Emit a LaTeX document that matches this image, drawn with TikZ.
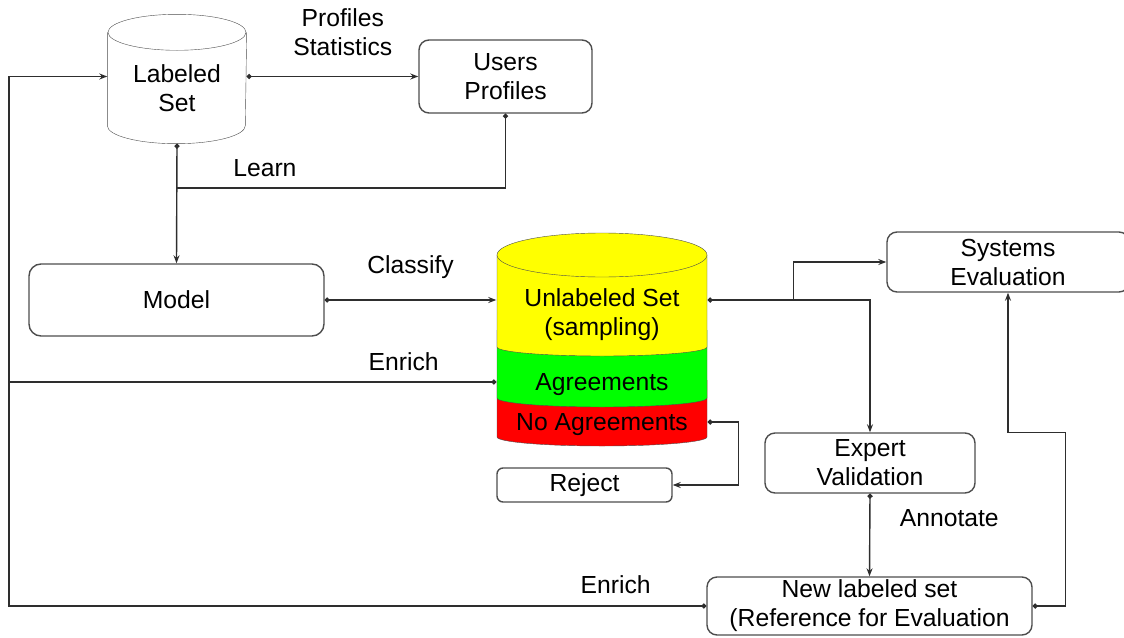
\documentclass[tikz,border=0pt]{standalone}
\usepackage{fontspec}
\setmainfont{Liberation Sans}
\usetikzlibrary{arrows.meta,backgrounds}

\definecolor{linegray}{HTML}{2E2E2E}
\definecolor{boxgray}{HTML}{4D4D4D}
\definecolor{setyellow}{HTML}{FFFF00}
\definecolor{setgreen}{HTML}{00FF00}
\definecolor{setred}{HTML}{FF0000}

\begin{document}
\begin{tikzpicture}[x=1pt,y=-1pt,line width=1.4pt,>={Stealth[length=8pt,width=6pt]},
      font=\fontsize{24.7}{29}\selectfont,
      box/.style={draw=boxgray,rounded corners=10pt,inner sep=0pt,align=center},
      drum/.style={draw=boxgray},
      flow/.style={draw=linegray,{Circle[length=5pt]}->},
      feed/.style={draw=linegray,{Circle[length=5pt]}-},
      branch/.style={draw=linegray,->}]
			\useasboundingbox (0,0) rectangle (1124,637);
			% nodes
			\node[align=center,inner sep=0pt,minimum width=138pt,minimum height=110pt] (lset) at (177,88) {Labeled\\Set};
			\node[box,minimum width=173pt,minimum height=73pt] (uprof) at (505.5,76.5) {Users\\Profiles};
			\node[box,rounded corners=12pt,minimum width=295pt,minimum height=72pt] (model) at (176.5,300) {Model};
			\node[align=center,inner sep=0pt,minimum width=210pt] (uset) at (602,315) {Unlabeled Set\\(sampling)};
			\node[inner sep=0pt,minimum width=210pt] (agree) at (602,385) {Agreements};
			\node[inner sep=0pt,minimum width=210pt] (noagr) at (602,425) {No Agreements};
			\node[box,rounded corners=6pt,minimum width=175pt,minimum height=34pt] (reject) at (584.5,485) {Reject};
			\node[box,minimum width=210pt,minimum height=60pt] (expert) at (870,463) {Expert\\Validation};
			\node[box,minimum width=242pt,minimum height=60pt] (sysev) at (1008,262) {Systems\\Evaluation};
			\node[box,minimum width=325pt,minimum height=58pt] (nls) at (869.5,606) {New labeled set\\(Reference for Evaluation};
			% cylinders
			\begin{scope}[on background layer]
				\draw[drum] (lset.north west) -- ([yshift=18pt]lset.south west) arc[start angle=180,end angle=360,x radius=69pt,y radius=18pt] -- (lset.north east);
				\draw[drum,fill=white] (lset.north) ellipse[x radius=69pt,y radius=18pt];
				\draw[drum,fill=setred] (497,380) -- (497,437) arc[start angle=180,end angle=360,x radius=105pt,y radius=9pt] -- (707,380);
				\draw[drum,fill=setgreen] (497,330) -- (497,398) arc[start angle=180,end angle=360,x radius=105pt,y radius=9pt] -- (707,330);
				\draw[drum,fill=setyellow] (497,255) -- (497,347) arc[start angle=180,end angle=360,x radius=105pt,y radius=9pt] -- (707,255);
				\draw[drum,fill=setyellow] (602,255) ellipse[x radius=105pt,y radius=22pt];
			\end{scope}
			% connectors
			\coordinate (lft) at (9,76.5);
			\draw[flow] (lset.east |- uprof.west) -- node[pos=.56,anchor=south,yshift=17pt,align=center] (pstat) {Profiles\\Statistics} (uprof.west);
			\draw[flow] (lset.south) -- coordinate[pos=.37] (jl) (model.north);
			\draw[feed] (uprof.south) |- node[pos=.866,anchor=base,yshift=11pt] (learn) {Learn} (jl);
			\draw[flow] (model.east) -- node[anchor=base,yshift=27pt] (classify) {Classify} (model.east -| uset.west);
			\draw[feed] (agree.west |- 0,382) -- node[pos=.19,anchor=base,yshift=12pt] (enrichA) {Enrich} (lft |- 0,382);
			\draw[flow] (nls.west) -| node[pos=.065,anchor=base,yshift=13pt] (enrichB) {Enrich} (lft) -- (lset.west |- lft);
			\draw[flow] (model.east -| uset.east) -| coordinate[pos=.265] (br) (expert.north);
			\draw[branch] (br) |- (sysev.west);
			\draw[flow] (noagr.east |- 0,422) -- ++(31,0) |- (reject.east);
			\draw[flow] (expert.south) -- node[pos=.4,anchor=base west,xshift=26pt] (annot) {Annotate} (nls.north);
			\draw[flow] (nls.east) -- ++(33,0) |- (sysev.south |- expert.north) -- (sysev.south);
		\end{tikzpicture}
\end{document}
